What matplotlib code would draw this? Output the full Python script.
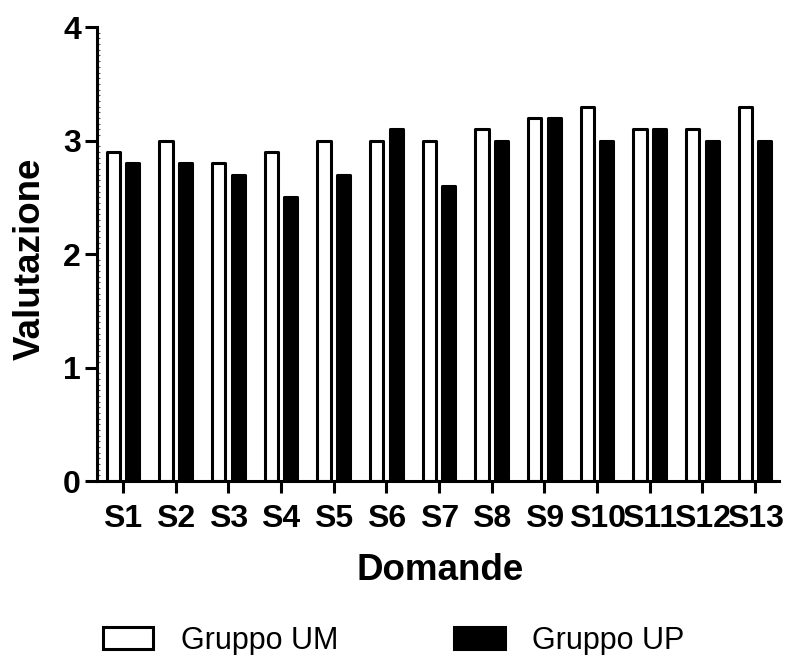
import numpy as np
import matplotlib
matplotlib.use('Agg')
import matplotlib.pyplot as plt
from matplotlib.ticker import MultipleLocator

plt.rcParams['font.family'] = ['Liberation Sans', 'DejaVu Sans']

domande = ['S1', 'S2', 'S3', 'S4', 'S5', 'S6', 'S7', 'S8', 'S9', 'S10', 'S11', 'S12', 'S13']
gruppo_um = [2.9, 3.0, 2.8, 2.9, 3.0, 3.0, 3.0, 3.1, 3.2, 3.3, 3.1, 3.1, 3.3]
gruppo_up = [2.8, 2.8, 2.7, 2.5, 2.7, 3.1, 2.6, 3.0, 3.2, 3.0, 3.1, 3.0, 3.0]

x = np.arange(len(domande))
w = 0.25
off = 0.185

fig = plt.figure(figsize=(7.87, 6.55), dpi=100)
ax = fig.add_axes([0.1233, 0.2656, 0.8666, 0.693])

ax.bar(x - off, gruppo_um, w, color='white', edgecolor='black', linewidth=2.2,
       joinstyle='round', label='Gruppo UM')
ax.bar(x + off, gruppo_up, w, color='black', edgecolor='black', linewidth=2.2,
       joinstyle='round', label='Gruppo UP')

ax.set_xlim(-0.494, 12.454)
ax.set_ylim(0, 4)
ax.set_yticks([0, 1, 2, 3, 4])
ax.yaxis.set_minor_locator(MultipleLocator(0.05))
ax.set_xticks(x)
ax.set_xticklabels(domande)

for s in ['top', 'right']:
    ax.spines[s].set_visible(False)
for s in ['left', 'bottom']:
    ax.spines[s].set_linewidth(2.2)
    ax.spines[s].set_capstyle('projecting')

ax.tick_params(axis='both', which='major', length=8.6, width=2.2, direction='out',
               labelsize=23)
ax.tick_params(axis='x', pad=8)
ax.tick_params(axis='y', pad=3)
ax.tick_params(axis='y', which='minor', length=2.5, width=0.8, direction='in', color='#555555')
for lab in ax.get_xticklabels() + ax.get_yticklabels():
    lab.set_fontweight('bold')

ax.set_ylabel('Valutazione', fontsize=26.5, fontweight='bold')
ax.set_xlabel('Domande', fontsize=26.5, fontweight='bold')
ax.yaxis.set_label_coords(-0.073, 0.49)
ax.xaxis.set_label_coords(0.503, -0.158)

leg = fig.legend(loc='center', bbox_to_anchor=(0.5, 0.022), ncol=2, frameon=False,
                 fontsize=22, handlelength=1.65, handleheight=0.75,
                 handletextpad=0.9, columnspacing=3.8)

plt.savefig('out.png', dpi=100)
